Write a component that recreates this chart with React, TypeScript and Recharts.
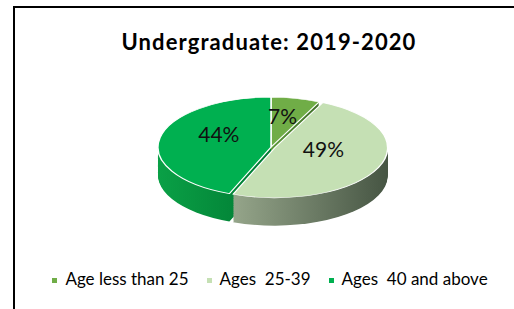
import React from 'react';
import { PieChart, Pie, Cell } from 'recharts';

const categories = ['Age less than 25', 'Ages  25-39', 'Ages  40 and above'];
const values = [7, 49, 44];
const exploded = [false, true, false];
const title = 'Undergraduate: 2019-2020';

const topColors = ['#70AD47', '#C5E0B4', '#00B050'];
const sideFills = ['url(#side0)', 'url(#side1)', 'url(#side2)'];

const data = categories.map((name, i) => ({ name, value: values[i] }));

const S = 0.442; // vertical squash of the tilted pie
const R = 113;
const W = 260;
const CX = 130;
const CY = 118;
const DEPTH = 63; // unscaled
const STEP = 2;
const EXPLODE = 4;
const FONT = 'Lato, "Open Sans", sans-serif';

const total = values.reduce((a, b) => a + b, 0);
const midAngles = values.map((v, i) => {
  const before = values.slice(0, i).reduce((a, b) => a + b, 0);
  return 90 - (360 * (before + v / 2)) / total;
});

const offsets: number[] = [];
for (let o = DEPTH; o > 0; o -= STEP) offsets.push(o);

function shiftFor(i: number) {
  if (i < 0 || !exploded[i]) return { dx: 0, dy: 0 };
  const rad = (midAngles[i] * Math.PI) / 180;
  return { dx: EXPLODE * Math.cos(rad), dy: -EXPLODE * Math.sin(rad) };
}

const makeLabel = (group: boolean) => (props: any) => {
  const { cx, cy, midAngle, index } = props;
  if (exploded[index] !== group) return <g key={`l${index}`} />;
  const rad = (midAngle * Math.PI) / 180;
  const x = cx + 0.47 * R * Math.cos(rad);
  const y = cy - 0.47 * R * Math.sin(rad) - 9 / S;
  return (
    <text
      key={`l${index}`}
      transform={`translate(${x},${y}) scale(1,${1 / S})`}
      textAnchor="middle"
      dominantBaseline="central"
      fill="#111"
      fontSize={21}
      fontFamily={FONT}
    >
      {`${values[index]}%`}
    </text>
  );
};

function layer(off: number, top: boolean) {
  const groups = [false, true];
  return groups.map((g) => {
    const sh = shiftFor(g ? exploded.indexOf(true) : -1);
    return (
      <Pie
        key={`${off}-${g}-${top}`}
        data={data}
        dataKey="value"
        cx={CX + sh.dx}
        cy={CY + off + sh.dy}
        outerRadius={R}
        innerRadius={0}
        startAngle={90}
        endAngle={-270}
        isAnimationActive={false}
        stroke={top ? '#ffffff' : 'none'}
        strokeWidth={top ? 1.5 : 0}
        labelLine={false}
        label={top ? makeLabel(g) : false}
      >
        {data.map((_, i) => (
          <Cell
            key={i}
            fill={exploded[i] === g ? (top ? topColors[i] : sideFills[i]) : 'transparent'}
            stroke={exploded[i] === g ? (top ? '#ffffff' : 'none') : 'none'}
          />
        ))}
      </Pie>
    );
  });
}

export default function App() {
  return (
    <div
      style={{
        position: 'absolute',
        left: 0,
        top: 0,
        width: 514,
        height: 309,
        overflow: 'hidden',
        background: '#fff',
        fontFamily: FONT,
      }}
    >
      <div
        style={{
          position: 'absolute',
          left: 13,
          top: 6,
          width: 600,
          height: 400,
          borderTop: '2px solid #000',
          borderLeft: '2px solid #000',
        }}
      />
      <div
        style={{
          position: 'absolute',
          left: 0,
          width: 538,
          top: 29,
          textAlign: 'center',
          fontWeight: 700,
          fontSize: 22,
          letterSpacing: 1.1,
          color: '#000',
          lineHeight: '26px',
        }}
      >
        {title}
      </div>
      <div
        style={{
          position: 'absolute',
          left: 270.5 - CX,
          top: 147 - CY * S,
          width: W,
          height: 304,
          transform: `scaleY(${S})`,
          transformOrigin: 'top left',
        }}
      >
        <PieChart width={W} height={304} margin={{ top: 0, right: 0, bottom: 0, left: 0 }}>
          <defs>
            <linearGradient id="side0" x1="0" y1="0" x2="1" y2="0">
              <stop offset="0%" stopColor="#5e9a3a" />
              <stop offset="100%" stopColor="#3f6f28" />
            </linearGradient>
            <linearGradient id="side1" x1="0" y1="0" x2="1" y2="0">
              <stop offset="0%" stopColor="#95a58a" />
              <stop offset="100%" stopColor="#465543" />
            </linearGradient>
            <linearGradient id="side2" x1="0" y1="0" x2="1" y2="0">
              <stop offset="0%" stopColor="#0aa046" />
              <stop offset="100%" stopColor="#007a32" />
            </linearGradient>
          </defs>
          {offsets.map((o) => layer(o, false))}
          {layer(0, true)}
        </PieChart>
      </div>
      <div
        style={{
          position: 'absolute',
          left: 0,
          width: 540,
          top: 269,
          display: 'flex',
          justifyContent: 'center',
          alignItems: 'center',
          fontSize: 17,
          color: '#000',
          whiteSpace: 'pre',
          lineHeight: '20px',
        }}
      >
        {categories.map((c, i) => (
          <div key={c} style={{ display: 'flex', alignItems: 'center', marginRight: i < categories.length - 1 ? 18 : 0 }}>
            <span
              style={{
                display: 'inline-block',
                width: 5,
                height: 5,
                background: topColors[i],
                marginRight: 8,
                marginTop: 3,
              }}
            />
            <span>{c}</span>
          </div>
        ))}
      </div>
    </div>
  );
}
